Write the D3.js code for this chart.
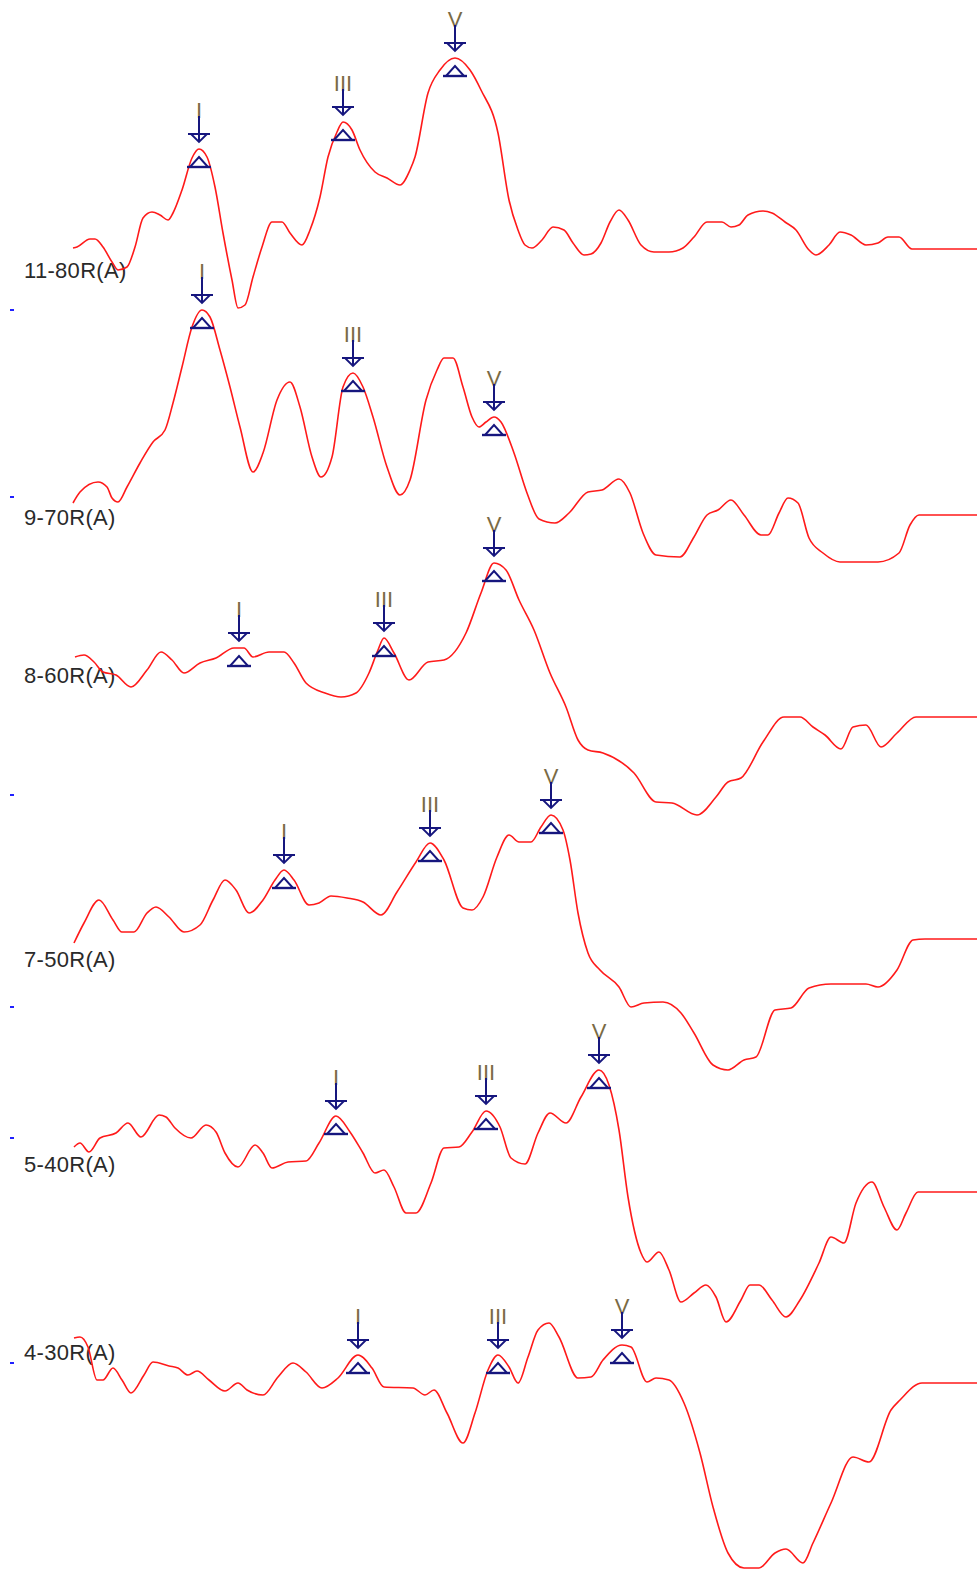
<!DOCTYPE html>
<html>
<head>
<meta charset="utf-8">
<script src="https://cdn.jsdelivr.net/npm/d3@7/dist/d3.min.js"></script>
<style>
  body { margin: 0; background: #fff; }
  svg { display: block; }
</style>
</head>
<body>
<div id="chart"></div>
<script>
// ABR traces, time in ms, amplitude in uV (relative to each trace's own zero)
const labels = ["11-80R(A)", "9-70R(A)", "8-60R(A)", "7-50R(A)", "5-40R(A)", "4-30R(A)"];

const wave80 = [[0.01,0.01],[0.05,0.02],[0.18,0.10],[0.23,0.10],[0.31,0.02],[0.40,-0.13],[0.46,-0.21],[0.55,-0.18],[0.63,0.02],[0.71,0.31],[0.80,0.37],[0.88,0.34],[0.96,0.29],[1.01,0.36],[1.10,0.59],[1.20,0.91],[1.27,1.00],[1.35,0.92],[1.43,0.62],[1.51,0.16],[1.60,-0.31],[1.66,-0.59],[1.73,-0.56],[1.81,-0.28],[1.90,0.02],[2.00,0.27],[2.10,0.27],[2.18,0.16],[2.30,0.04],[2.38,0.19],[2.48,0.52],[2.56,0.92],[2.65,1.17],[2.71,1.27],[2.80,1.19],[2.88,0.99],[3.03,0.77],[3.15,0.71],[3.28,0.64],[3.38,0.79],[3.43,0.92],[3.56,1.56],[3.68,1.79],[3.83,1.91],[3.98,1.79],[4.09,1.59],[4.26,1.16],[4.37,0.49],[4.46,0.19],[4.53,0.04],[4.60,0.01],[4.70,0.09],[4.81,0.22],[4.92,0.19],[5.01,0.06],[5.12,-0.06],[5.19,-0.05],[5.29,0.06],[5.38,0.27],[5.47,0.39],[5.56,0.29],[5.69,0.04],[5.82,-0.03],[5.97,-0.03],[6.11,0.01],[6.22,0.12],[6.35,0.27],[6.50,0.27],[6.59,0.22],[6.67,0.24],[6.76,0.34],[6.91,0.38],[7.00,0.36],[7.13,0.27],[7.24,0.19],[7.37,-0.01],[7.44,-0.06],[7.57,0.04],[7.68,0.17],[7.79,0.14],[7.94,0.04],[8.06,0.06],[8.16,0.12],[8.27,0.12],[8.40,0],[9.05,0]];

const wave70 = [[0.01,0.11],[0.08,0.22],[0.26,0.32],[0.35,0.27],[0.40,0.16],[0.46,0.12],[0.55,0.27],[0.68,0.51],[0.81,0.72],[0.93,0.84],[1.01,1.11],[1.10,1.47],[1.20,1.87],[1.30,2.04],[1.38,1.97],[1.48,1.64],[1.58,1.27],[1.68,0.87],[1.81,0.42],[1.91,0.61],[2.05,1.14],[2.18,1.32],[2.28,1.07],[2.40,0.57],[2.49,0.37],[2.60,0.57],[2.71,1.27],[2.81,1.41],[2.91,1.27],[3.01,0.97],[3.15,0.47],[3.28,0.19],[3.38,0.34],[3.54,1.14],[3.65,1.44],[3.72,1.56],[3.81,1.56],[3.91,1.27],[4.00,0.97],[4.07,0.87],[4.14,0.92],[4.22,0.97],[4.29,0.92],[4.42,0.61],[4.55,0.21],[4.67,-0.05],[4.83,-0.09],[4.97,0.01],[5.16,0.22],[5.30,0.24],[5.47,0.35],[5.58,0.21],[5.71,-0.19],[5.84,-0.41],[6.08,-0.43],[6.22,-0.23],[6.35,-0.01],[6.46,0.04],[6.59,0.14],[6.72,-0.01],[6.89,-0.21],[6.96,-0.21],[7.07,0.01],[7.16,0.16],[7.26,0.11],[7.37,-0.24],[7.51,-0.39],[7.68,-0.48],[7.84,-0.48],[8.06,-0.48],[8.27,-0.39],[8.38,-0.11],[8.47,-0.01],[9.05,-0.01]];

const wave60 = [[0.03,0.59],[0.12,0.61],[0.22,0.54],[0.31,0.44],[0.44,0.41],[0.59,0.29],[0.75,0.46],[0.89,0.64],[1.00,0.56],[1.12,0.43],[1.28,0.53],[1.44,0.58],[1.62,0.68],[1.72,0.68],[1.81,0.59],[1.97,0.64],[2.12,0.64],[2.22,0.53],[2.34,0.33],[2.53,0.23],[2.69,0.19],[2.84,0.23],[2.97,0.43],[3.06,0.66],[3.12,0.78],[3.22,0.63],[3.37,0.36],[3.56,0.54],[3.72,0.56],[3.94,0.83],[4.09,1.23],[4.22,1.53],[4.34,1.46],[4.47,1.16],[4.62,0.86],[4.78,0.43],[4.94,0.09],[5.06,-0.24],[5.16,-0.34],[5.31,-0.37],[5.62,-0.57],[5.84,-0.86],[6.00,-0.87],[6.25,-0.99],[6.44,-0.81],[6.56,-0.66],[6.69,-0.62],[6.91,-0.26],[7.12,-0.01],[7.28,-0.01],[7.41,-0.11],[7.53,-0.19],[7.69,-0.33],[7.81,-0.11],[7.94,-0.09],[8.09,-0.31],[8.25,-0.17],[8.44,-0.01],[9.05,-0.01]];

const wave50 = [[0.02,-0.05],[0.12,0.15],[0.27,0.38],[0.41,0.18],[0.50,0.06],[0.62,0.06],[0.75,0.25],[0.84,0.31],[0.97,0.21],[1.12,0.06],[1.28,0.13],[1.41,0.38],[1.53,0.58],[1.64,0.48],[1.77,0.25],[1.91,0.38],[2.03,0.58],[2.12,0.68],[2.22,0.58],[2.37,0.33],[2.47,0.35],[2.59,0.42],[2.75,0.40],[2.91,0.36],[3.09,0.23],[3.25,0.46],[3.44,0.76],[3.58,0.95],[3.72,0.78],[3.91,0.30],[4.00,0.28],[4.11,0.41],[4.25,0.81],[4.37,1.03],[4.47,0.96],[4.59,0.96],[4.69,1.11],[4.79,1.23],[4.91,1.08],[4.98,0.78],[5.06,0.25],[5.16,-0.15],[5.28,-0.32],[5.47,-0.49],[5.59,-0.69],[5.72,-0.65],[5.91,-0.64],[6.09,-0.75],[6.22,-0.95],[6.41,-1.27],[6.56,-1.32],[6.72,-1.22],[6.84,-1.19],[7.03,-0.72],[7.19,-0.70],[7.37,-0.50],[7.59,-0.46],[7.94,-0.46],[8.06,-0.49],[8.25,-0.32],[8.41,-0.02],[8.53,-0.01],[9.05,-0.01]];

const wave40 = [[0.02,0.43],[0.08,0.47],[0.17,0.38],[0.28,0.52],[0.44,0.57],[0.56,0.67],[0.69,0.53],[0.87,0.75],[0.94,0.73],[1.03,0.62],[1.19,0.52],[1.34,0.65],[1.44,0.58],[1.53,0.37],[1.66,0.23],[1.83,0.45],[1.91,0.37],[2.00,0.22],[2.16,0.28],[2.34,0.29],[2.47,0.47],[2.64,0.74],[2.78,0.58],[2.91,0.37],[3.03,0.17],[3.12,0.20],[3.22,0.03],[3.34,-0.23],[3.44,-0.23],[3.59,0.07],[3.72,0.42],[3.87,0.43],[4.00,0.58],[4.14,0.79],[4.28,0.63],[4.39,0.32],[4.53,0.26],[4.66,0.57],[4.78,0.77],[4.94,0.67],[5.09,0.93],[5.27,1.20],[5.37,1.05],[5.47,0.60],[5.56,-0.07],[5.69,-0.63],[5.75,-0.72],[5.87,-0.62],[5.97,-0.80],[6.09,-1.12],[6.22,-1.03],[6.34,-0.95],[6.44,-1.07],[6.54,-1.32],[6.69,-1.10],[6.78,-0.95],[6.87,-0.95],[7.00,-1.10],[7.14,-1.27],[7.28,-1.10],[7.47,-0.73],[7.59,-0.47],[7.72,-0.53],[7.84,-0.13],[8.00,0.08],[8.12,-0.17],[8.25,-0.40],[8.34,-0.23],[8.46,-0.02],[9.05,-0.02]];

const wave30 = [[0.02,0.44],[0.08,0.45],[0.16,0.35],[0.25,0.02],[0.31,0.02],[0.41,0.14],[0.50,0.02],[0.59,-0.11],[0.72,0.07],[0.81,0.20],[0.97,0.16],[1.06,0.14],[1.16,0.07],[1.25,0.11],[1.37,0.02],[1.53,-0.09],[1.66,-0.01],[1.75,-0.08],[1.91,-0.13],[2.06,0.05],[2.21,0.19],[2.34,0.10],[2.50,-0.06],[2.66,0.04],[2.86,0.27],[3.00,0.14],[3.12,-0.05],[3.41,-0.06],[3.53,-0.13],[3.62,-0.08],[3.75,-0.31],[3.91,-0.61],[4.03,-0.31],[4.16,0.12],[4.26,0.27],[4.37,0.15],[4.46,-0.01],[4.56,0.25],[4.66,0.52],[4.77,0.59],[4.87,0.45],[5.06,0.04],[5.19,0.05],[5.31,0.22],[5.50,0.37],[5.59,0.35],[5.75,0],[5.84,0.04],[5.97,0.02],[6.12,-0.21],[6.28,-0.71],[6.41,-1.25],[6.56,-1.71],[6.72,-1.86],[6.87,-1.86],[7.03,-1.71],[7.14,-1.67],[7.31,-1.81],[7.41,-1.61],[7.59,-1.21],[7.81,-0.75],[7.97,-0.80],[8.19,-0.28],[8.28,-0.18],[8.50,-0.01],[9.05,-0.01]];

const waves = [wave80, wave70, wave60, wave50, wave40, wave30];

// marked peak latencies (ms)
const latI = [1.27, 1.30, 1.67, 2.12, 2.64, 2.86];
const latIII = [2.71, 2.81, 3.12, 3.58, 4.14, 4.26];
const latV = [3.83, 4.22, 4.22, 4.79, 5.27, 5.50];
const peakNames = ["I", "III", "V"];

// small reference tick per trace (uV)
const refTick = [-0.61, 0.17, -0.79, -0.69, 0.52, 0.19];

// layout
const width = 977;
const height = 1572;
const baseY = [249, 514, 716, 938, 1190, 1382];
const labelY = [278, 525, 683, 967, 1172, 1360];
const pxPerUv = 100;

const svg = d3.select("#chart")
  .append("svg")
  .attr("width", width)
  .attr("height", height)
  .style("background", "#fff");

const x = d3.scaleLinear()
  .domain([0, 10])
  .range([72, 1072]);

// value at a latency, by linear interpolation between samples
function ampAt(wave, t) {
  const i = d3.bisector(d => d[0]).left(wave, t);
  if (i <= 0) return wave[0][1];
  if (i >= wave.length) return wave[wave.length - 1][1];
  const a = wave[i - 1], b = wave[i];
  return a[1] + (b[1] - a[1]) * (t - a[0]) / (b[0] - a[0]);
}

const navy = "#16167e";

waves.forEach(function (wave, k) {
  const y = d3.scaleLinear()
    .domain([-1, 1])
    .range([baseY[k] + pxPerUv, baseY[k] - pxPerUv]);

  const g = svg.append("g");

  // reference tick at the left edge
  g.append("line")
    .attr("x1", 10).attr("x2", 14)
    .attr("y1", y(refTick[k])).attr("y2", y(refTick[k]))
    .attr("stroke", "#2020ff")
    .attr("stroke-width", 2);

  // label
  g.append("text")
    .attr("x", 24)
    .attr("y", labelY[k])
    .text(labels[k])
    .style("font-family", "'Liberation Sans', Arial, sans-serif")
    .style("font-size", "22px")
    .style("letter-spacing", "0.3px")
    .style("fill", "#2a2a2a");

  // waveform
  const line = d3.line()
    .x(d => x(d[0]))
    .y(d => y(d[1]))
    .curve(d3.curveMonotoneX);

  g.append("path")
    .datum(wave)
    .attr("d", line)
    .attr("fill", "none")
    .attr("stroke", "#ff1a1a")
    .attr("stroke-width", 1.6);

  // peak markers
  [latI[k], latIII[k], latV[k]].forEach(function (lat, j) {
    const px = x(lat);
    const py = y(ampAt(wave, lat));
    const m = g.append("g").attr("transform", "translate(" + px + "," + py + ")");

    m.append("text")
      .attr("x", 0)
      .attr("y", -31)
      .attr("text-anchor", "middle")
      .text(peakNames[j])
      .style("font-family", "'Liberation Sans', Arial, sans-serif")
      .style("font-size", "22px")
      .style("fill", "#7a6a45");

    // down arrow
    m.append("line")
      .attr("x1", 0).attr("x2", 0)
      .attr("y1", -33).attr("y2", -7)
      .attr("stroke", navy).attr("stroke-width", 2);
    m.append("line")
      .attr("x1", -11).attr("x2", 11)
      .attr("y1", -15).attr("y2", -15)
      .attr("stroke", navy).attr("stroke-width", 2);
    m.append("path")
      .attr("d", "M-8,-15L0,-7L8,-15")
      .attr("fill", "none")
      .attr("stroke", navy).attr("stroke-width", 1.8);

    // triangle under the peak
    m.append("path")
      .attr("d", "M-9,18L0,8L9,18")
      .attr("fill", "none")
      .attr("stroke", navy).attr("stroke-width", 1.9);
    m.append("line")
      .attr("x1", -12).attr("x2", 12)
      .attr("y1", 18).attr("y2", 18)
      .attr("stroke", navy).attr("stroke-width", 2.4);
  });
});
</script>
</body>
</html>
